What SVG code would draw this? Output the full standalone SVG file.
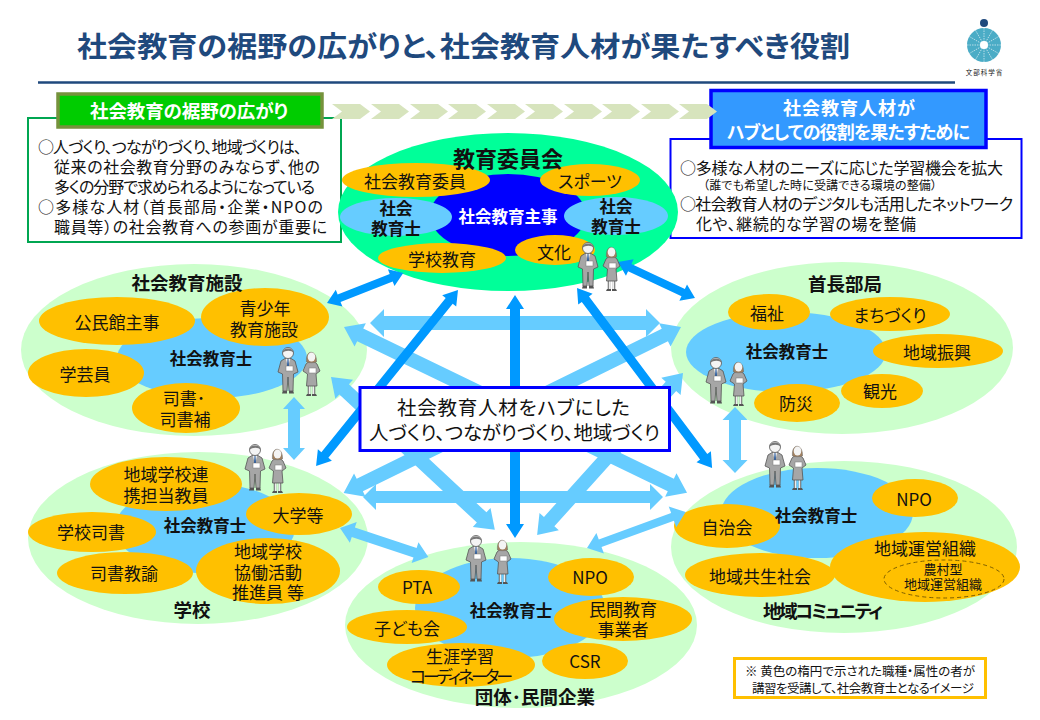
<svg xmlns="http://www.w3.org/2000/svg" width="1040" height="720" viewBox="0 0 1040 720">
<style>
text{font-family:"Noto Sans CJK JP","Noto Sans",sans-serif;font-feature-settings:"palt";dominant-baseline:central;fill:#111}
.c{text-anchor:middle}
.o{fill:#ffc000}.g{fill:#ccffcc}.b{fill:#66ccff}
.l{font-size:17px}
.h{font-size:18.5px;font-weight:700}
.s{font-size:16.5px;font-weight:700}
.d{fill:#0099ff}.f{fill:#66ccff}
.w{fill:#fff;font-weight:700;font-size:18px}
.chev{fill:#d7e4bd}
</style>
<defs>
<g id="man">
<path d="M9 44h-4l-1 3.500h5zM11 44h4l1 3.500h-5z" fill="#555"/>
<path d="M3 15L7 12.500H13L17 15L20 26L15.500 28L15 45H11L10 31L9 45H5L4.500 28L0 26Z" fill="#a6a6a6" stroke="#555" stroke-width=".8"/>
<path d="M8 12.500L10 22L12 12.500Z" fill="#fff"/><path d="M9.500 13H10.500L11 20L10 22L9 20Z" fill="#2a5a9a"/>
<rect x="8" y="20" width="7" height="5" fill="#fff" stroke="#777" stroke-width=".5"/>
<circle cx="10" cy="7" r="5.500" fill="#f4f4f4" stroke="#555" stroke-width=".8"/>
<path d="M4.500 7C4 1 16 1 15.500 7C14 4 7 4 4.500 7Z" fill="#777"/>
</g>
<g id="woman">
<path d="M6 36V45M11 36V45" stroke="#666" stroke-width="2.500"/><path d="M6.500 36V45M10.500 36V45" stroke="#eee" stroke-width="1.500"/>
<path d="M4 45h4v2h-5zM9 45h4l1 2h-5z" fill="#555"/>
<path d="M3 15L6 12.500H11L14 15L17 22L13 25L14 37H3.500L4.500 25L0 22Z" fill="#a6a6a6" stroke="#555" stroke-width=".8"/>
<rect x="6" y="19" width="7" height="5" fill="#fff" stroke="#777" stroke-width=".5"/>
<path d="M3.500 13C2 0 14 0 13.500 13C12 14 5 14 3.500 13Z" fill="#a08060" stroke="#666" stroke-width=".5"/>
<ellipse cx="8.500" cy="8" rx="3.800" ry="4.500" fill="#f4f4f4"/>
</g>
<path id="chev" d="M0 0H28L38 7.500L28 15H0L10 7.500Z"/>
</defs>

<text x="77" y="44" style="font-size:28.500px;font-weight:700;fill:#1f497d" textLength="773" lengthAdjust="spacingAndGlyphs">社会教育の裾野の広がりと、社会教育人材が果たすべき役割</text>
<line x1="38" y1="82.500" x2="955" y2="82.500" stroke="#1f497d" stroke-width="2.500"/>

<g id="logo">
<circle cx="984" cy="23" r="4" fill="#1f497d"/>
<circle cx="984" cy="45" r="17" fill="#4bacc6"/>
<g stroke="#fff" stroke-width=".6" stroke-dasharray="1.500 1">
<line x1="984" y1="28" x2="984" y2="62"/><line x1="967" y1="45" x2="1001" y2="45"/>
<line x1="975.500" y1="30.300" x2="992.500" y2="59.700"/><line x1="992.500" y1="30.300" x2="975.500" y2="59.700"/>
<line x1="969.300" y1="36.500" x2="998.700" y2="53.500"/><line x1="998.700" y1="36.500" x2="969.300" y2="53.500"/>
</g>
<circle cx="984" cy="45" r="4" fill="#fff"/>
<text class="c" x="984.500" y="71.500" style="font-size:6.500px;letter-spacing:1px">文部科学省</text>
</g>

<g id="panel-left">
<rect x="28" y="118" width="313" height="124" fill="#fff" stroke="#00a651" stroke-width="2"/>
<rect x="58" y="94" width="264" height="33" fill="#00cc00" stroke="#76923c" stroke-width="3.500"/>
<text class="c w" x="189" y="110" style="font-size:18.500px" textLength="198">社会教育の裾野の広がり</text>
<text style="font-size:16px">
<tspan x="38" y="146" textLength="264">○人づくり、つながりづくり、地域づくりは、</tspan>
<tspan x="54" y="166" textLength="266">従来の社会教育分野のみならず、他の</tspan>
<tspan x="54" y="186" textLength="261">多くの分野で求められるようになっている</tspan>
<tspan x="38" y="206" textLength="285">○多様な人材（首長部局・企業・NPOの</tspan>
<tspan x="54" y="226" textLength="273">職員等）の社会教育への参画が重要に</tspan>
</text>
</g>

<g id="panel-right">
<rect x="670.500" y="139" width="351" height="99" fill="#fff" stroke="#0000ff" stroke-width="2"/>
<rect x="711" y="90.500" width="275" height="57" fill="#3399ff" stroke="#0000ff" stroke-width="3.500"/>
<text class="c w"><tspan x="849" y="107" textLength="132">社会教育人材が</tspan><tspan x="848.500" y="131" textLength="243">ハブとしての役割を果たすために</tspan></text>
<text style="font-size:16px">
<tspan x="680" y="167" textLength="323">○多様な人材のニーズに応じた学習機会を拡大</tspan>
<tspan x="703" y="184" style="font-size:12px" textLength="234">（誰でも希望した時に受講できる環境の整備）</tspan>
<tspan x="680" y="203" textLength="333">○社会教育人材のデジタルも活用したネットワーク</tspan>
<tspan x="696" y="223" textLength="220">化や、継続的な学習の場を整備</tspan>
</text>
</g>

<g id="chevrons" class="chev">
<use href="#chev" x="332" y="104"/><use href="#chev" x="371" y="104"/><use href="#chev" x="410" y="104"/><use href="#chev" x="448" y="104"/><use href="#chev" x="487" y="104"/><use href="#chev" x="525" y="104"/><use href="#chev" x="564" y="104"/><use href="#chev" x="602" y="104"/><use href="#chev" x="641" y="104"/><use href="#chev" x="679" y="104"/>
</g>

<g id="node-board">
<ellipse cx="508" cy="212" rx="170" ry="79" fill="#00ff99"/>
<ellipse cx="508" cy="215" rx="78" ry="41" fill="#0000ff"/>
<ellipse cx="396" cy="217" rx="56" ry="19" class="b"/>
<ellipse cx="616" cy="216" rx="52" ry="19" class="b"/>
<ellipse class="o" cx="416" cy="180" rx="74" ry="17"/><ellipse class="o" cx="590" cy="180" rx="50" ry="16"/>
<ellipse class="o" cx="442" cy="258" rx="64" ry="15"/><ellipse class="o" cx="555" cy="250" rx="40" ry="15"/>
<text class="c" x="508" y="157" style="font-size:22px;font-weight:700">教育委員会</text>
<text class="c s" x="508" y="216" style="fill:#fff">社会教育主事</text>
<text class="c s"><tspan x="396" y="208">社会</tspan><tspan x="396" y="228">教育士</tspan></text>
<text class="c s"><tspan x="616" y="206">社会</tspan><tspan x="616" y="226">教育士</tspan></text>
<text class="c l" x="415" y="180">社会教育委員</text><text class="c l" x="590" y="180">スポーツ</text>
<text class="c l" x="442" y="258">学校教育</text><text class="c l" x="554" y="251">文化</text>
</g>

<g id="node-facility">
<ellipse class="g" cx="194" cy="350" rx="173" ry="86"/><ellipse class="b" cx="212" cy="358" rx="95" ry="40"/>
<ellipse class="o" cx="117" cy="321" rx="78" ry="24"/><ellipse class="o" cx="265" cy="317" rx="64" ry="29"/>
<ellipse class="o" cx="86" cy="373" rx="58" ry="24"/><ellipse class="o" cx="186" cy="408" rx="54" ry="25"/>
<text class="c h" x="187" y="282">社会教育施設</text><text class="c s" x="211" y="358">社会教育士</text>
<text class="c l" x="117" y="321">公民館主事</text><text class="c l"><tspan x="265" y="307">青少年</tspan><tspan x="264" y="328">教育施設</tspan></text>
<text class="c l" x="85" y="373">学芸員</text><text class="c l"><tspan x="184" y="397">司書･</tspan><tspan x="185" y="418">司書補</tspan></text>
</g>

<g id="node-mayor">
<ellipse class="g" cx="842" cy="348" rx="171" ry="86"/><ellipse class="b" cx="786" cy="352" rx="100" ry="40"/>
<ellipse class="o" cx="769" cy="312" rx="41" ry="18"/><ellipse class="o" cx="890" cy="314" rx="60" ry="17"/>
<ellipse class="o" cx="938" cy="351" rx="65" ry="17"/><ellipse class="o" cx="882" cy="391" rx="41" ry="17"/><ellipse class="o" cx="797" cy="403" rx="43" ry="19"/>
<text class="c h" x="845" y="283">首長部局</text><text class="c s" x="787" y="351">社会教育士</text>
<text class="c l" x="767" y="312">福祉</text><text class="c l" x="890" y="314">まちづくり</text><text class="c l" x="937" y="351">地域振興</text>
<text class="c l" x="880" y="390">観光</text><text class="c l" x="796" y="402">防災</text>
</g>

<g id="node-school">
<ellipse class="g" cx="198" cy="538" rx="170" ry="86"/><ellipse class="b" cx="205" cy="528" rx="90" ry="45"/>
<ellipse class="o" cx="166" cy="484" rx="76" ry="27"/><ellipse class="o" cx="299" cy="514" rx="53" ry="21"/>
<ellipse class="o" cx="92" cy="532" rx="64" ry="20"/><ellipse class="o" cx="125" cy="573" rx="68" ry="21"/><ellipse class="o" cx="268" cy="571" rx="72" ry="33"/>
<text class="c h" x="192" y="609">学校</text><text class="c s" x="205" y="525">社会教育士</text>
<text class="c l"><tspan x="166" y="473">地域学校連</tspan><tspan x="166" y="494">携担当教員</tspan></text><text class="c l" x="298" y="514">大学等</text>
<text class="c l" x="91" y="531">学校司書</text><text class="c l" x="124" y="572">司書教諭</text>
<text class="c l"><tspan x="268" y="550">地域学校</tspan><tspan x="268" y="571">協働活動</tspan><tspan x="268" y="591">推進員 等</tspan></text>
</g>

<g id="node-community">
<ellipse class="g" cx="844" cy="547" rx="173" ry="86"/><ellipse class="b" cx="817" cy="513" rx="96" ry="45"/>
<ellipse class="o" cx="915" cy="498" rx="43" ry="19"/><ellipse class="o" cx="727" cy="526" rx="53" ry="22"/>
<ellipse class="o" cx="760" cy="575" rx="75" ry="22"/><ellipse class="o" cx="925" cy="567" rx="95" ry="35"/>
<ellipse cx="944" cy="579" rx="60" ry="19" fill="none" stroke="#7f6000" stroke-width="1" stroke-dasharray="4 3"/>
<text class="c h" x="823" y="610" textLength="120">地域コミュニティ</text><text class="c s" x="816" y="515">社会教育士</text>
<text class="c l" x="914" y="498">NPO</text><text class="c l" x="727" y="526">自治会</text><text class="c l" x="760" y="575">地域共生社会</text>
<text class="c l"><tspan x="925" y="547">地域運営組織</tspan></text>
<text class="c" style="font-size:13px"><tspan x="943" y="568">農村型</tspan><tspan x="943" y="583">地域運営組織</tspan></text>
</g>

<g id="node-org">
<ellipse class="g" cx="521" cy="625" rx="176" ry="83"/><ellipse class="b" cx="510" cy="608" rx="95" ry="50"/>
<ellipse class="o" cx="419" cy="587" rx="41" ry="17"/><ellipse class="o" cx="407" cy="627" rx="60" ry="17"/><ellipse class="o" cx="461" cy="665" rx="74" ry="22"/>
<ellipse class="o" cx="591" cy="577" rx="43" ry="19"/><ellipse class="o" cx="623" cy="619" rx="69" ry="22"/><ellipse class="o" cx="585" cy="661" rx="43" ry="18"/>
<text class="c h" x="535" y="696">団体･民間企業</text><text class="c s" x="511" y="610">社会教育士</text>
<text class="c l" x="417" y="586">PTA</text><text class="c l" x="407" y="627">子ども会</text><text class="c l"><tspan x="460" y="655">生涯学習</tspan><tspan x="461.500" y="675" textLength="103">コーディネーター</tspan></text>
<text class="c l" x="590" y="576">NPO</text><text class="c l"><tspan x="623" y="608">民間教育</tspan><tspan x="623" y="628">事業者</tspan></text><text class="c l" x="585" y="660">CSR</text>
</g>

<g id="connectors">
<path class="f" transform="translate(370 323) rotate(0)" d="M0 0L14 -14V-7H276V-14L290 0L276 14V7H14V14Z"/>
<path class="f" transform="translate(363 497) rotate(0)" d="M0 0L13 -13V-6H287V-13L300 0L287 13V6H13V13Z"/>
<path class="f" transform="translate(344 327) rotate(25.800)" d="M0 0L18 -13V-7H363V-13L381 0L363 13V7H18V13Z"/>
<path class="f" transform="translate(681 327) rotate(153.800)" d="M0 0L18 -13V-7H358V-13L376 0L358 13V7H18V13Z"/>
<path class="f" transform="translate(331 377) rotate(43)" d="M0 0L18 -13V-7H206V-13L224 0L206 13V7H18V13Z"/>
<path class="f" transform="translate(683 373) rotate(132)" d="M0 0L18 -13V-7H200V-13L218 0L200 13V7H18V13Z"/>
<path class="f" transform="translate(294 397) rotate(90)" d="M0 0L12 -11V-6H51V-11L63 0L51 11V6H12V11Z"/>
<path class="f" transform="translate(735 407) rotate(90)" d="M0 0L13 -12.500V-6H53V-12.500L66 0L53 12.500V6H13V12.500Z"/>
<path class="f" transform="translate(340 528) rotate(18.200)" d="M0 0L14 -11V-5H79V-11L93 0L79 11V5H14V11Z"/>
<path class="f" transform="translate(587 548) rotate(-20)" d="M0 0L14 -11V-4H91V-11L105 0L91 11V4H14V11Z"/>
<path class="d" transform="translate(327 303) rotate(-21.500)" d="M0 0L13 -9V-4H69V-9L82 0L69 9V4H13V9Z"/>
<path class="d" transform="translate(618 262) rotate(25.100)" d="M0 0L13 -9V-4H72V-9L85 0L72 9V4H13V9Z"/>
<path class="d" transform="translate(515 295) rotate(90)" d="M0 0L14 -9V-5H229V-9L243 0L229 9V5H14V9Z"/>
<path class="d" transform="translate(458 290) rotate(128.900)" d="M0 0L14 -9V-4.500H212V-9L226 0L212 9V4.500H14V9Z"/>
<path class="d" transform="translate(577 288) rotate(53.100)" d="M0 0L14 -9V-4.500H211V-9L225 0L211 9V4.500H14V9Z"/>
</g>

<g id="people">
<use href="#man" x="578" y="241"/><use href="#woman" x="603" y="244"/>
<use href="#man" x="278" y="346"/><use href="#woman" x="303" y="349"/>
<use href="#man" x="706" y="356"/><use href="#woman" x="730" y="359"/>
<use href="#man" x="245" y="443"/><use href="#woman" x="269" y="446"/>
<use href="#man" x="765" y="440"/><use href="#woman" x="789" y="443"/>
<use href="#man" x="466" y="534"/><use href="#woman" x="494" y="537"/>
</g>

<g id="hub">
<rect x="360" y="387.500" width="309.500" height="63" fill="#fff" stroke="#0000ff" stroke-width="3"/>
<text class="c" style="font-size:19.500px"><tspan x="513.500" y="406" textLength="233">社会教育人材をハブにした</tspan><tspan x="514.500" y="431" textLength="291">人づくり、つながりづくり、地域づくり</tspan></text>
</g>

<g id="note">
<rect x="734.500" y="658.500" width="251" height="39" fill="#fff" stroke="#ffc000" stroke-width="3"/>
<text style="font-size:12.500px"><tspan x="745" y="670" textLength="230">※  黄色の楕円で示された職種・属性の者が</tspan><tspan x="752" y="687" textLength="222">講習を受講して、社会教育士となるイメージ</tspan></text>
</g>
</svg>
